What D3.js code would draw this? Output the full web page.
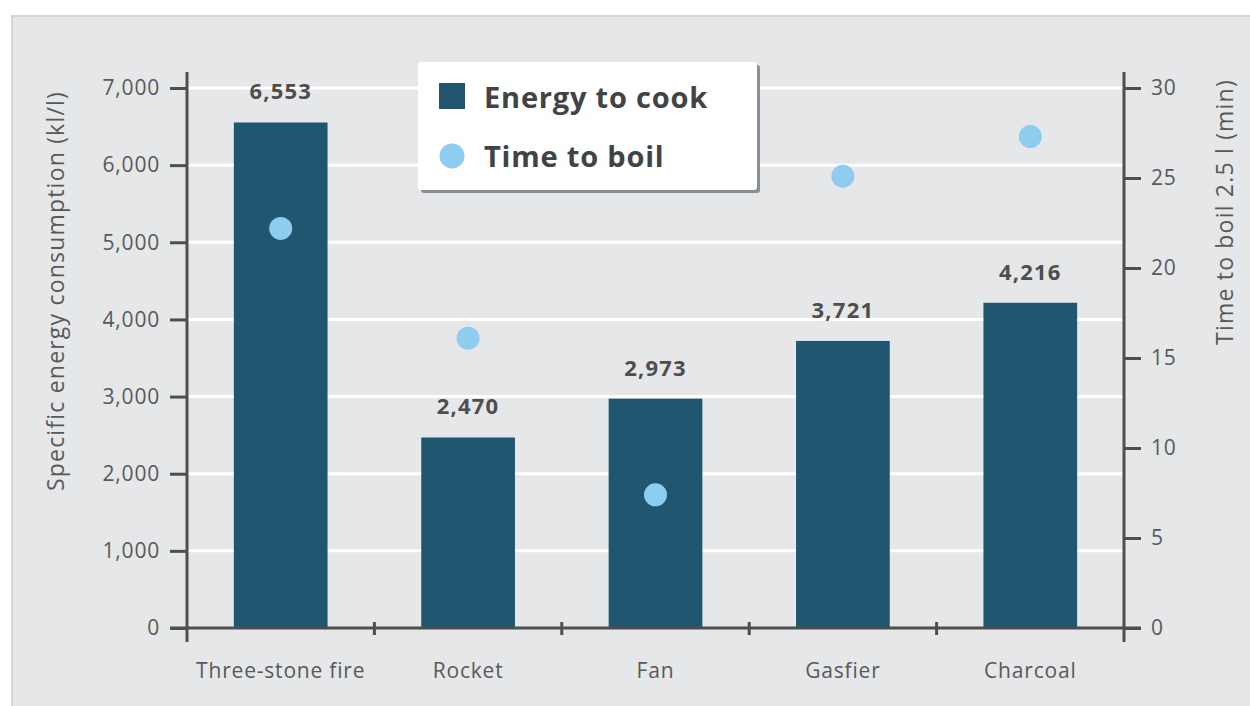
<!DOCTYPE html>
<html>
<head>
<meta charset="utf-8">
<script src="https://cdn.jsdelivr.net/npm/d3@7"></script>
<style>
  body { margin: 0; background: #fff; }
  svg { display: block; font-family: "Open Sans", sans-serif; }
</style>
</head>
<body>
<div id="chart"></div>
<script>
const categories = ["Three-stone fire", "Rocket", "Fan", "Gasfier", "Charcoal"];
const energy = [6553, 2470, 2973, 3721, 4216];
const boilTime = [22.2, 16.1, 7.4, 25.1, 27.3];
const leftTicks = [0, 1000, 2000, 3000, 4000, 5000, 6000, 7000];
const rightTicks = [0, 5, 10, 15, 20, 25, 30];

const w = 1250, h = 706;
const padL = 187, padR = 1124, padT = 88, padB = 628;
const axisCol = "#4d4e50", textCol = "#58595b";

const svg = d3.select("#chart").append("svg")
  .attr("width", w).attr("height", h);

// panel
svg.append("rect")
  .attr("x", 12).attr("y", 16).attr("width", w).attr("height", h)
  .attr("fill", "#e6e7e9").attr("stroke", "#d4d6d8").attr("stroke-width", 2);

const x = d3.scaleBand().domain(categories).range([padL, padR])
  .paddingInner(0.5).paddingOuter(0.25);
const xOuter = d3.scaleBand().domain(categories).range([padL, padR]);
const yL = d3.scaleLinear().domain([0, 7000]).range([padB, padT]);
const yR = d3.scaleLinear().domain([0, 30]).range([padB, padT]);

// grid
svg.append("g").selectAll("line")
  .data(leftTicks.slice(1))
  .enter().append("line")
  .attr("x1", padL).attr("x2", padR)
  .attr("y1", d => yL(d)).attr("y2", d => yL(d))
  .attr("stroke", "#fff").attr("stroke-width", 3);

// bars
svg.selectAll("rect.bar")
  .data(energy)
  .enter().append("rect")
  .attr("class", "bar")
  .attr("x", (d, i) => x(categories[i]))
  .attr("y", d => yL(d))
  .attr("width", x.bandwidth())
  .attr("height", d => padB - yL(d))
  .attr("fill", "#215670");

svg.selectAll("text.val")
  .data(energy)
  .enter().append("text")
  .attr("class", "val")
  .attr("x", (d, i) => x(categories[i]) + x.bandwidth() / 2)
  .attr("y", d => yL(d) - 23)
  .attr("text-anchor", "middle")
  .attr("font-size", 22).attr("font-weight", "bold")
  .attr("letter-spacing", 1.2)
  .attr("fill", "#4d4e50")
  .text(d => d3.format(",")(d));

// dots
svg.selectAll("circle.dot")
  .data(boilTime)
  .enter().append("circle")
  .attr("class", "dot")
  .attr("cx", (d, i) => x(categories[i]) + x.bandwidth() / 2)
  .attr("cy", d => yR(d))
  .attr("r", 11.5)
  .attr("fill", "#8ecdf0");

// axes
const yAxisL = d3.axisLeft(yL).tickValues(leftTicks).tickFormat(d3.format(",")).tickSize(17).tickPadding(10);
const yAxisR = d3.axisRight(yR).tickValues(rightTicks).tickSize(17).tickPadding(10);
const xAxis = d3.axisBottom(x).tickSize(0).tickPadding(35);

const gx = svg.append("g").attr("transform", "translate(0," + padB + ")").call(xAxis);
const gl = svg.append("g").attr("transform", "translate(" + padL + ",0)").call(yAxisL);
const gr = svg.append("g").attr("transform", "translate(" + padR + ",0)").call(yAxisR);

[gx, gl, gr].forEach(g => {
  g.select(".domain").remove();
  g.selectAll("line").attr("stroke", axisCol).attr("stroke-width", 3);
  g.selectAll("text").attr("fill", textCol).attr("font-size", 21)
    .attr("letter-spacing", 0.8)
    .attr("font-family", "'Open Sans', sans-serif");
});

// axis lines
svg.append("line").attr("x1", padL).attr("x2", padL).attr("y1", 72).attr("y2", padB + 14)
  .attr("stroke", axisCol).attr("stroke-width", 3);
svg.append("line").attr("x1", padR).attr("x2", padR).attr("y1", 72).attr("y2", padB + 14)
  .attr("stroke", axisCol).attr("stroke-width", 3);
svg.append("line").attr("x1", padL - 17).attr("x2", padR + 17).attr("y1", padB).attr("y2", padB)
  .attr("stroke", axisCol).attr("stroke-width", 3);

// category dividers
svg.selectAll("line.div")
  .data(categories.slice(1))
  .enter().append("line")
  .attr("class", "div")
  .attr("x1", d => xOuter(d)).attr("x2", d => xOuter(d))
  .attr("y1", padB - 6).attr("y2", padB + 7)
  .attr("stroke", axisCol).attr("stroke-width", 3);

// axis titles
svg.append("text")
  .attr("transform", "translate(64,291) rotate(-90)")
  .attr("text-anchor", "middle")
  .attr("font-size", 23).attr("letter-spacing", 1.2).attr("fill", textCol)
  .text("Specific energy consumption (kl/l)");
svg.append("text")
  .attr("transform", "translate(1233,212) rotate(-90)")
  .attr("text-anchor", "middle")
  .attr("font-size", 23).attr("letter-spacing", 1.2).attr("fill", textCol)
  .text("Time to boil 2.5 l (min)");

// legend
const lg = svg.append("g").attr("transform", "translate(418,62)");
lg.append("rect").attr("x", 3).attr("y", 3).attr("width", 339).attr("height", 128)
  .attr("rx", 3).attr("fill", "#8a8f95");
lg.append("rect").attr("width", 339).attr("height", 128)
  .attr("rx", 3).attr("fill", "#fff");
lg.append("rect").attr("x", 21).attr("y", 21).attr("width", 26).attr("height", 26)
  .attr("fill", "#215670");
lg.append("circle").attr("cx", 34).attr("cy", 94).attr("r", 12.5).attr("fill", "#8ecdf0");
lg.append("text").attr("x", 66).attr("y", 46)
  .attr("font-size", 29).attr("font-weight", "bold").attr("letter-spacing", 0.8).attr("fill", "#414345")
  .text("Energy to cook");
lg.append("text").attr("x", 66).attr("y", 105)
  .attr("font-size", 29).attr("font-weight", "bold").attr("letter-spacing", 0.8).attr("fill", "#414345")
  .text("Time to boil");
</script>
</body>
</html>
